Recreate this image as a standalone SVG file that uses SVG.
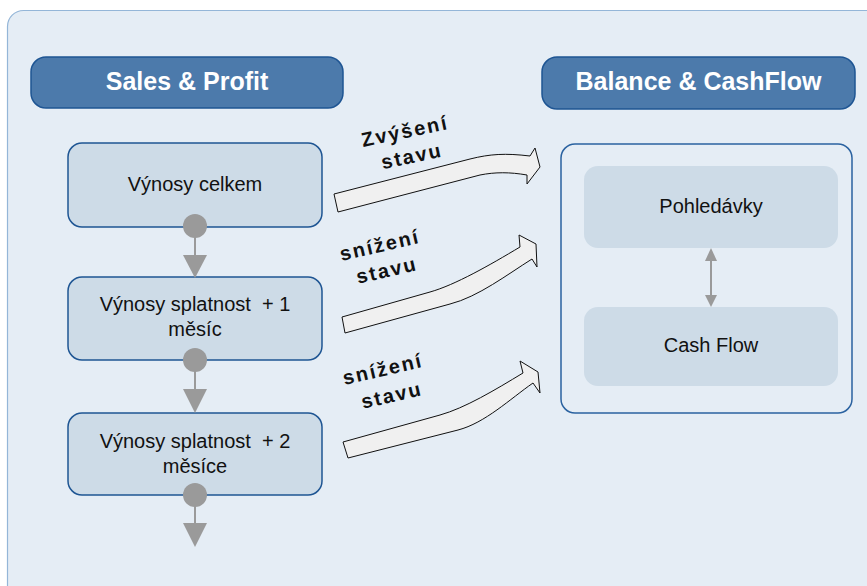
<svg xmlns="http://www.w3.org/2000/svg" width="867" height="586" viewBox="0 0 867 586">
<style>
.hdr{fill:#4c7aab;stroke:#1e5593;stroke-width:1.5}
.hdrt{font-family:"Liberation Sans",Arial,sans-serif;font-weight:bold;font-size:25px;fill:#ffffff;text-anchor:middle}
.box{fill:#cddbe7;stroke:#1e5593;stroke-width:1.5}
.ibox{fill:#cddbe7}
.t{font-family:"Liberation Sans",Arial,sans-serif;font-size:20px;fill:#111111;text-anchor:middle;white-space:pre}
.lbl{font-family:"Liberation Sans",Arial,sans-serif;font-weight:bold;font-size:20px;fill:#111111;text-anchor:middle;letter-spacing:2px}
.big{fill:#f0f0f0;stroke:#111111;stroke-width:1}
.g{fill:#9a9a9a}
.gl{stroke:#9a9a9a;stroke-width:2;fill:none}
</style>
<rect x="0" y="0" width="867" height="586" fill="#ffffff"/>
<rect x="7.5" y="10.5" width="880" height="600" rx="16" fill="#e5edf5" stroke="#94b6d8" stroke-width="1.2"/>

<g id="hdr-sales">
<rect class="hdr" x="31" y="57" width="312" height="51" rx="15"/>
<text class="hdrt" x="187" y="90">Sales &amp; Profit</text>
</g>
<g id="hdr-balance">
<rect class="hdr" x="542" y="57" width="313" height="52" rx="15"/>
<text class="hdrt" x="698.5" y="90">Balance &amp; CashFlow</text>
</g>

<g id="vynosy-celkem">
<rect class="box" x="68" y="143" width="254" height="84" rx="14"/>
<text class="t" x="195" y="191">Výnosy celkem</text>
</g>
<g id="vynosy-1">
<rect class="box" x="68" y="277" width="254" height="83" rx="14"/>
<text class="t" x="195" y="311">Výnosy splatnost  + 1</text>
<text class="t" x="195" y="336">měsíc</text>
</g>
<g id="vynosy-2">
<rect class="box" x="68" y="413" width="254" height="82" rx="14"/>
<text class="t" x="195" y="448">Výnosy splatnost  + 2</text>
<text class="t" x="195" y="473">měsíce</text>
</g>

<g id="balance-container">
<rect x="561" y="144" width="291" height="269" rx="14" fill="none" stroke="#2a62a0" stroke-width="1.5"/>
</g>
<g id="pohledavky">
<rect class="ibox" x="584" y="166" width="254" height="82" rx="14"/>
<text class="t" x="711" y="213">Pohledávky</text>
</g>
<g id="cashflow">
<rect class="ibox" x="584" y="307" width="254" height="79" rx="14"/>
<text class="t" x="711" y="352">Cash Flow</text>
</g>

<g id="connectors">
<circle class="g" cx="195" cy="226" r="12"/>
<line class="gl" x1="195" y1="226" x2="195" y2="258"/>
<polygon class="g" points="183,255 207,255 195,278"/>
<circle class="g" cx="195" cy="360" r="12"/>
<line class="gl" x1="195" y1="360" x2="195" y2="392"/>
<polygon class="g" points="183,389 207,389 195,413"/>
<circle class="g" cx="195" cy="495" r="12"/>
<line class="gl" x1="195" y1="495" x2="195" y2="526"/>
<polygon class="g" points="183,523 207,523 195,547"/>

<line class="gl" x1="711" y1="256" x2="711" y2="298"/>
<polygon class="g" points="705,261 717,261 711,248"/>
<polygon class="g" points="705,295 717,295 711,307"/>

<path class="big" d="M334,194 L470,159 C490,154 505,153 530,156 L535,148 L540,167 L527,184 L527,175 C510,172 495,172 480,175 L338,212 Z"/>
<path class="big" d="M342,317 L430,292 C455,285 490,265 520,247 L519,235 L536,244 L537,267 L532,259 C508,274 478,297 450,304 L345,333 Z"/>
<path class="big" d="M343,442 L440,415 C465,408 495,390 523,373 L520,361 L538,372 L540,393 L533,383 C510,399 485,423 458,430 L348,458 Z"/>

<text class="lbl" transform="translate(405,132) rotate(-12)" y="6">Zvýšení</text>
<text class="lbl" transform="translate(412,157) rotate(-12)" y="6">stavu</text>
<text class="lbl" transform="translate(380,246) rotate(-13)" y="6">snížení</text>
<text class="lbl" transform="translate(387,271) rotate(-13)" y="6">stavu</text>
<text class="lbl" transform="translate(383,370) rotate(-13)" y="6">snížení</text>
<text class="lbl" transform="translate(392,396) rotate(-13)" y="6">stavu</text>
</g>
</svg>
